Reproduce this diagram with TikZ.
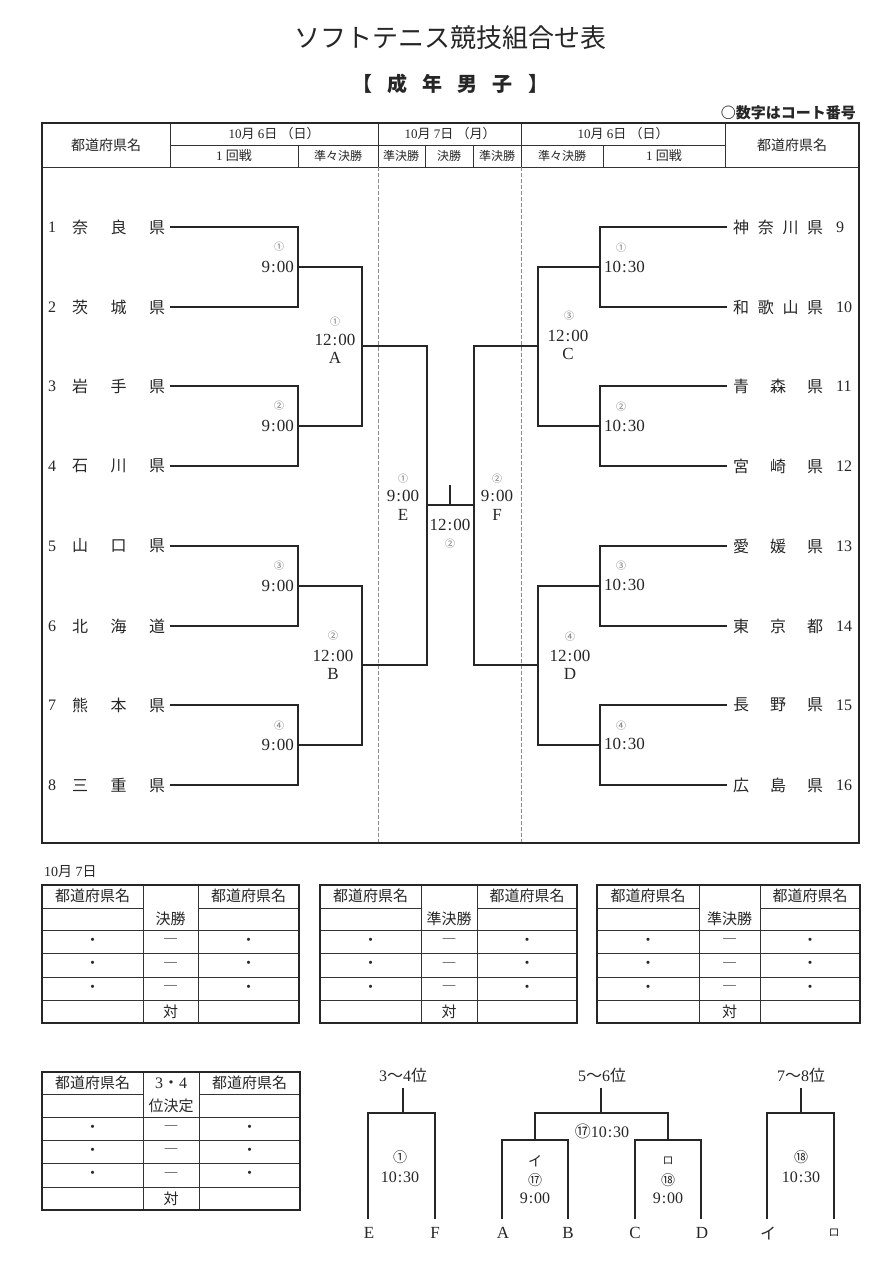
\documentclass[tikz,border=0pt]{standalone}
\usepackage{fontspec}
\setmainfont{Liberation Serif}
\newfontfamily\cjk{Noto Sans CJK JP}
\newcommand\J[1]{{\cjk #1}}
\newcommand\hhmm[2]{#1\kern1pt:\kern1pt#2}
\begin{document}
\begin{tikzpicture}[x=1pt,y=-1pt,
  every node/.style={inner sep=0pt,text=black!85},
  br/.style={draw=black!85,line width=1.3pt},
  frame/.style={draw=black!85,line width=2pt},
  grid/.style={draw=black!80,line width=0.8pt},
  sep/.style={draw=black!45,line width=0.6pt,dash pattern=on 4pt off 2pt},
  lbl/.style={font=\fontsize{17}{17}\selectfont},
  cn/.style={text=black!55,font=\cjk\fontsize{10}{10}\selectfont},
  tmn/.style={font=\cjk\fontsize{16}{16}\selectfont},
  num/.style={font=\fontsize{16}{16}\selectfont},
  hd/.style={font=\fontsize{13}{13}\selectfont},
  hdj/.style={font=\cjk\fontsize{12}{12}\selectfont},
  tb/.style={font=\cjk\fontsize{15}{15}\selectfont},
  bl/.style={font=\fontsize{16}{16}\selectfont},
  bc/.style={font=\cjk\fontsize{14}{14}\selectfont},
]
\useasboundingbox (0,0) rectangle (893,1280);
\fill[white] (0,0) rectangle (893,1280);

% ---------- titles ----------
\node[font=\cjk\fontsize{26}{26}\selectfont] (title) at (450,38) {ソフトテニス競技組合せ表};
\node[font=\cjk\bfseries\fontsize{20}{20}\selectfont] (sub) at (450,84)
  {\makebox[196pt]{【\hfill 成\hfill 年\hfill 男\hfill 子\hfill 】}};
\node[font=\cjk\bfseries\fontsize{15}{15}\selectfont,anchor=east] (note) at (856,113) {○数字はコート番号};

% ---------- header table ----------
\draw[grid] (170,145) -- (725,145);
\draw[grid] (42,167) -- (859,167);
\foreach \x in {170,378,521,725} \draw[grid] (\x,123) -- (\x,167);
\foreach \x in {298,425,473,603} \draw[grid] (\x,145) -- (\x,167);
\draw[sep] (378,167) -- (378,843);
\draw[sep] (521,167) -- (521,843);
\draw[frame] (42,123) rectangle (859,843);

\node[hdj,font=\cjk\fontsize{14}{14}\selectfont] (hL) at (106,145) {都道府県名};
\node[hdj,font=\cjk\fontsize{14}{14}\selectfont] (hR) at (792,145) {都道府県名};
\node[hd] (d1) at (274,134) {10\J{月}\ 6\J{日}\ \J{（日）}};
\node[hd] (d2) at (450,134) {10\J{月}\ 7\J{日}\ \J{（月）}};
\node[hd] (d3) at (623,134) {10\J{月}\ 6\J{日}\ \J{（日）}};
\node[hd] (r1a) at (234,156) {1\ \J{回戦}};
\node[hdj] (r2a) at (338,156) {準々決勝};
\node[hdj] (r3a) at (401,156) {準決勝};
\node[hdj] (r4) at (449,156) {決勝};
\node[hdj] (r3b) at (497,156) {準決勝};
\node[hdj] (r2b) at (562,156) {準々決勝};
\node[hd] (r1b) at (664,156) {1\ \J{回戦}};

% ---------- teams ----------
\foreach \i/\y/\a/\b/\c in {1/227/奈/良/県,2/307/茨/城/県,3/386/岩/手/県,4/466/石/川/県,
                            5/546/山/口/県,6/626/北/海/道,7/705/熊/本/県,8/785/三/重/県}{
  \node[num] (k\i) at (52,\y) {\i};
  \node[tmn,anchor=west] (n\i) at (72,\y) {\makebox[93pt]{\a\hfill \b\hfill \c}};
  \coordinate (la\i) at (170,\y);
}
\foreach \i/\y/\t in {9/227/{神\hfill 奈\hfill 川\hfill 県},10/307/{和\hfill 歌\hfill 山\hfill 県},
                      11/386/{青\hfill 森\hfill 県},12/466/{宮\hfill 崎\hfill 県},
                      13/546/{愛\hfill 媛\hfill 県},14/626/{東\hfill 京\hfill 都},
                      15/705/{長\hfill 野\hfill 県},16/785/{広\hfill 島\hfill 県}}{
  \node[tmn,anchor=west] (n\i) at (733,\y) {\makebox[90pt]{\t}};
  \node[num,anchor=west] (k\i) at (836,\y) {\i};
  \coordinate (ra\i) at (727,\y);
}

% ---------- bracket coordinates ----------
\coordinate (m1) at (298,267); \coordinate (m2) at (298,426);
\coordinate (m3) at (298,586); \coordinate (m4) at (298,745);
\coordinate (q1) at (362,346); \coordinate (q2) at (362,665);
\coordinate (s1) at (427,505);
\coordinate (p1) at (600,267); \coordinate (p2) at (600,426);
\coordinate (p3) at (600,586); \coordinate (p4) at (600,745);
\coordinate (w1) at (538,346); \coordinate (w2) at (538,665);
\coordinate (s2) at (474,505);
\coordinate (fin) at (450,505); \coordinate (fintop) at (450,485);

\draw[br] (la1) -| (m1) |- (la2);
\draw[br] (la3) -| (m2) |- (la4);
\draw[br] (la5) -| (m3) |- (la6);
\draw[br] (la7) -| (m4) |- (la8);
\draw[br] (m1) -| (q1) |- (m2);
\draw[br] (m3) -| (q2) |- (m4);
\draw[br] (q1) -| (s1) |- (q2);
\draw[br] (ra9) -| (p1) |- (ra10);
\draw[br] (ra11) -| (p2) |- (ra12);
\draw[br] (ra13) -| (p3) |- (ra14);
\draw[br] (ra15) -| (p4) |- (ra16);
\draw[br] (p1) -| (w1) |- (p2);
\draw[br] (p3) -| (w2) |- (p4);
\draw[br] (w1) -| (s2) |- (w2);
\draw[br] (s1) -- (s2);
\draw[br] (fin) -- (fintop);

% ---------- match labels, left ----------
\foreach \j/\cy/\ty/\c in {1/247/267/①,2/406/426/②,3/566/586/③,4/726/745/④}{
  \node[cn] (lc\j) at (279,\cy) {\c};
  \node[lbl,anchor=east] (lt\j) at (294,\ty) {\hhmm{9}{00}};
}
\node[cn] (qcA) at (335,322) {①};
\node[lbl] (qtA) at (335,340) {\hhmm{12}{00}};
\node[lbl] (qA) at (335,358) {A};
\node[cn] (qcB) at (333,636) {②};
\node[lbl] (qtB) at (333,656) {\hhmm{12}{00}};
\node[lbl] (qB) at (333,674) {B};
\node[cn] (ecE) at (403,479) {①};
\node[lbl] (etE) at (403,496) {\hhmm{9}{00}};
\node[lbl] (eE) at (403,515) {E};
\node[cn] (ecF) at (497,479) {②};
\node[lbl] (etF) at (497,496) {\hhmm{9}{00}};
\node[lbl] (eF) at (497,515) {F};
\node[lbl] (ft) at (450,525) {\hhmm{12}{00}};
\node[cn] (fc) at (450,544) {②};

% ---------- match labels, right ----------
\foreach \j/\cy/\ty/\c in {1/248/267/①,2/407/426/②,3/566/585/③,4/726/744/④}{
  \node[cn] (rc\j) at (621,\cy) {\c};
  \node[lbl,anchor=west] (rt\j) at (604,\ty) {\hhmm{10}{30}};
}
\node[cn] (qcC) at (569,316) {③};
\node[lbl] (qtC) at (568,336) {\hhmm{12}{00}};
\node[lbl] (qC) at (568,354) {C};
\node[cn] (qcD) at (570,637) {④};
\node[lbl] (qtD) at (570,656) {\hhmm{12}{00}};
\node[lbl] (qD) at (570,674) {D};

% ---------- lower tables ----------
\node[hd,font=\fontsize{14}{14}\selectfont,anchor=west] (day) at (44,872) {10\J{月}\ 7\J{日}};

\foreach \k/\xa/\xb/\xc/\xd/\md in {1/42/143/198/299/決勝,2/320/421/477/577/準決勝,3/597/699/760/860/準決勝}{
  \draw[grid] (\xa,908) -- (\xb,908) (\xc,908) -- (\xd,908);
  \foreach \yy in {930,953,977,1000} \draw[grid] (\xa,\yy) -- (\xd,\yy);
  \draw[grid] (\xb,885) -- (\xb,1023) (\xc,885) -- (\xc,1023);
  \draw[frame] (\xa,885) rectangle (\xd,1023);
  \node[tb] (t\k hl) at ({(\xa+\xb)/2},896) {都道府県名};
  \node[tb] (t\k hr) at ({(\xc+\xd)/2},896) {都道府県名};
  \node[tb] (t\k hm) at ({(\xb+\xc)/2},919) {\md};
  \foreach \r/\yy in {1/941.5,2/965,3/988.5}{
    \node[tb] (t\k l\r) at ({(\xa+\xb)/2},\yy) {・};
    \node[tb] (t\k m\r) at ({(\xb+\xc)/2},\yy) {―};
    \node[tb] (t\k r\r) at ({(\xc+\xd)/2},\yy) {・};
  }
  \node[tb] (t\k v) at ({(\xb+\xc)/2},1012) {対};
}

% table 4
\draw[grid] (42,1094) -- (143,1094) (199,1094) -- (300,1094);
\foreach \yy in {1117,1140,1163,1187} \draw[grid] (42,\yy) -- (300,\yy);
\draw[grid] (143,1072) -- (143,1210) (199,1072) -- (199,1210);
\draw[frame] (42,1072) rectangle (300,1210);
\node[tb] (t4hl) at (92.5,1083) {都道府県名};
\node[tb] (t4hr) at (249.5,1083) {都道府県名};
\node[bl] (t4m1) at (171,1083) {3\J{・}4};
\node[tb] (t4m2) at (171,1106) {位決定};
\foreach \r/\yy in {1/1128.5,2/1151.5,3/1175}{
  \node[tb] (t4l\r) at (92.5,\yy) {・};
  \node[tb] (t4m\r x) at (171,\yy) {―};
  \node[tb] (t4r\r) at (249.5,\yy) {・};
}
\node[tb] (t4v) at (171,1198.5) {対};

% ---------- placing brackets ----------
% 3-4
\node[bl] (h34) at (403,1075) {3\J{～}4\J{位}};
\coordinate (s34) at (403,1088); \coordinate (j34) at (403,1113);
\coordinate (l34) at (368,1219); \coordinate (r34) at (435,1219);
\draw[br] (s34) -- (j34);
\draw[br] (l34) |- (j34) -| (r34);
\node[bc] (c34) at (400,1157) {①};
\node[bl] (t34) at (400,1177) {\hhmm{10}{30}};
\node[lbl] (bE) at (369,1233) {E};
\node[lbl] (bF) at (435,1233) {F};

% 5-6
\node[bl] (h56) at (602,1075) {5\J{～}6\J{位}};
\coordinate (s56) at (601,1088); \coordinate (j56) at (601,1113);
\coordinate (i1) at (535,1140); \coordinate (i2) at (668,1140);
\coordinate (lA) at (502,1219); \coordinate (lB) at (568,1219);
\coordinate (lC) at (635,1219); \coordinate (lD) at (701,1219);
\draw[br] (s56) -- (j56);
\draw[br] (i1) |- (j56) -| (i2);
\draw[br] (lA) |- (i1) -| (lB);
\draw[br] (lC) |- (i2) -| (lD);
\node[bl] (t56) at (602,1131) {\J{⑰}\hhmm{10}{30}};
\node[bc] (ki) at (535,1161) {イ};
\node[bc] (c17) at (535,1180) {⑰};
\node[bl] (t17) at (535,1198) {\hhmm{9}{00}};
\node[bc,font=\cjk\fontsize{11}{11}\selectfont] (kro) at (668,1161) {ロ};
\node[bc] (c18) at (668,1180) {⑱};
\node[bl] (t18) at (668,1198) {\hhmm{9}{00}};
\node[lbl] (bA) at (503,1233) {A};
\node[lbl] (bB) at (568,1233) {B};
\node[lbl] (bC) at (635,1233) {C};
\node[lbl] (bD) at (702,1233) {D};

% 7-8
\node[bl] (h78) at (801,1075) {7\J{～}8\J{位}};
\coordinate (s78) at (801,1088); \coordinate (j78) at (801,1113);
\coordinate (l78) at (767,1219); \coordinate (r78) at (834,1219);
\draw[br] (s78) -- (j78);
\draw[br] (l78) |- (j78) -| (r78);
\node[bc] (c78) at (801,1157) {⑱};
\node[bl] (t78) at (801,1177) {\hhmm{10}{30}};
\node[bc,font=\cjk\fontsize{16}{16}\selectfont] (bI) at (768,1233) {イ};
\node[bc,font=\cjk\fontsize{11}{11}\selectfont] (bRo) at (834,1233) {ロ};
\end{tikzpicture}
\end{document}
